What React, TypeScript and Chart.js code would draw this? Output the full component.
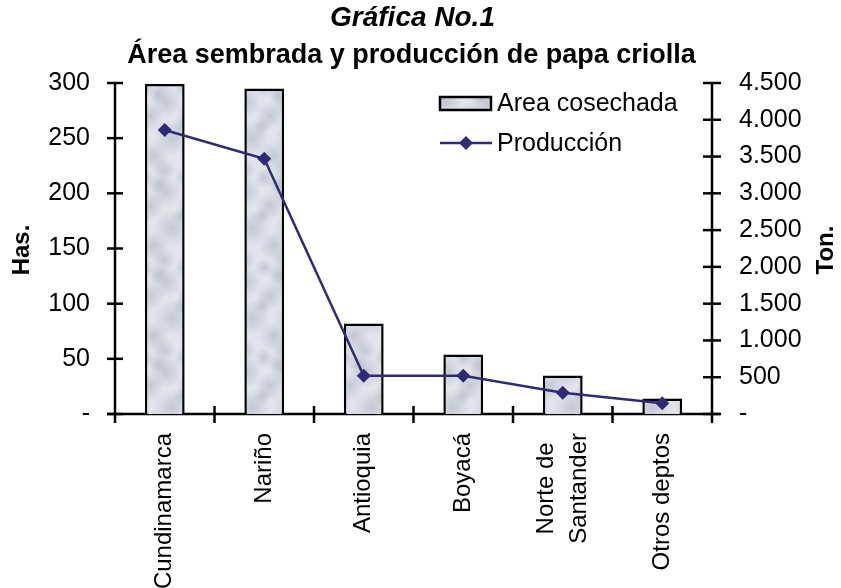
import React, { useEffect, useRef } from 'react';
import { Chart, registerables } from 'chart.js';

Chart.register(...registerables);

const categories: (string | string[])[] = ['Cundinamarca', 'Nariño', 'Antioquia', 'Boyacá', ['Norte de', 'Santander'], 'Otros deptos'];
const areaCosechada = [299, 295, 82, 54, 35, 14];
const produccion = [3860, 3470, 520, 520, 290, 145];
const leftMax = 300;
const leftStep = 50;
const rightMax = 4500;
const rightStep = 500;
const titleText = 'Gráfica No.1';
const subtitleText = 'Área sembrada y producción de papa criolla';
const leftAxisTitle = 'Has.';
const rightAxisTitle = 'Ton.';
const barLabel = 'Area cosechada';
const lineLabel = 'Producción';

const FONT = '"Liberation Sans", Arial, sans-serif';
const LINE_COLOR = '#2f2a78';
const X_FONT_SIZE = 24;
const X_LINE_HEIGHT = 1.35;

function makePattern(): CanvasPattern | string {
  const c = document.createElement('canvas');
  c.width = 40;
  c.height = 90;
  const g = c.getContext('2d');
  if (!g) return '#d8dbe3';
  g.fillStyle = '#e1e4eb';
  g.fillRect(0, 0, 40, 90);
  const spots = [
    [6, 12, 16], [30, 26, 14], [12, 48, 18], [34, 66, 15], [4, 80, 12], [24, 88, 10], [38, 4, 10], [22, 36, 9],
  ];
  for (const [x, y, r] of spots) {
    for (const dx of [-40, 0, 40]) {
      for (const dy of [-90, 0, 90]) {
        const grad = g.createRadialGradient(x + dx, y + dy, 0, x + dx, y + dy, r);
        grad.addColorStop(0, 'rgba(150,156,172,0.4)');
        grad.addColorStop(1, 'rgba(150,156,172,0)');
        g.fillStyle = grad;
        g.fillRect(0, 0, 40, 90);
      }
    }
  }
  const pat = g.createPattern(c, 'repeat');
  return pat || '#d8dbe3';
}

const fmtThousands = (v: number) => {
  if (v === 0) return '-';
  return String(v).replace(/\B(?=(\d{3})+(?!\d))/g, '.');
};

const decorPlugin = {
  id: 'decor',
  beforeDraw(chart: any) {
    // center multi-line rotated category labels on their tick, lines centred on each other
    const xs = chart.scales.x;
    if (xs && typeof xs.getLabelItems === 'function') {
      const items = xs.getLabelItems();
      const ctx = chart.ctx as CanvasRenderingContext2D;
      items.forEach((it: any) => {
        if (Array.isArray(it.label) && it.label.length > 1 && !it._centered) {
          const lh = X_FONT_SIZE * X_LINE_HEIGHT;
          it.options.translation[0] -= ((it.label.length - 1) * lh) / 2;
          ctx.save();
          ctx.font = `${X_FONT_SIZE}px ${FONT}`;
          const w = Math.max(...it.label.map((s: string) => ctx.measureText(s).width));
          ctx.restore();
          it.options.textAlign = 'center';
          it.options.translation[1] += w / 2;
          it._centered = true;
        }
      });
    }
  },
  beforeDatasetsDraw(chart: any) {
    const ctx = chart.ctx as CanvasRenderingContext2D;
    const { left, right, top, bottom } = chart.chartArea;
    const yL = chart.scales.y;
    const yR = chart.scales.y1;
    const x = chart.scales.x;
    ctx.save();
    ctx.strokeStyle = '#000';
    ctx.lineWidth = 2.5;
    ctx.beginPath();
    ctx.moveTo(left, top);
    ctx.lineTo(left, bottom + 9);
    ctx.stroke();
    ctx.beginPath();
    ctx.moveTo(right, top);
    ctx.lineTo(right, bottom + 9);
    ctx.stroke();
    ctx.beginPath();
    ctx.moveTo(left - 8, bottom);
    ctx.lineTo(right + 8, bottom);
    ctx.stroke();
    yL.ticks.forEach((t: any) => {
      const py = yL.getPixelForValue(t.value);
      ctx.beginPath();
      ctx.moveTo(left - 8, py);
      ctx.lineTo(left + 8, py);
      ctx.stroke();
    });
    yR.ticks.forEach((t: any) => {
      const py = yR.getPixelForValue(t.value);
      ctx.beginPath();
      ctx.moveTo(right - 9, py);
      ctx.lineTo(right + 9, py);
      ctx.stroke();
    });
    const n = categories.length;
    for (let i = 1; i < n; i++) {
      const px = (x.getPixelForValue(i - 1) + x.getPixelForValue(i)) / 2;
      ctx.beginPath();
      ctx.moveTo(px, bottom - 8);
      ctx.lineTo(px, bottom + 9);
      ctx.stroke();
    }
    ctx.restore();
  },
  afterDraw(chart: any) {
    const ctx = chart.ctx as CanvasRenderingContext2D;
    const { left, right } = chart.chartArea;
    const cx = (left + right) / 2;
    ctx.save();
    ctx.fillStyle = '#000';
    ctx.textAlign = 'center';
    ctx.textBaseline = 'alphabetic';
    ctx.font = `italic bold 28px ${FONT}`;
    ctx.fillText(titleText, cx - 1, 26);
    ctx.font = `bold 27px ${FONT}`;
    ctx.fillText(subtitleText, cx - 2, 63);
    ctx.textBaseline = 'middle';
    ctx.font = `bold 24px ${FONT}`;
    ctx.save();
    ctx.translate(22, 250);
    ctx.rotate(-Math.PI / 2);
    ctx.fillText(leftAxisTitle, 0, 0);
    ctx.restore();
    ctx.save();
    ctx.translate(826, 250);
    ctx.rotate(-Math.PI / 2);
    ctx.fillText(rightAxisTitle, 0, 0);
    ctx.restore();
    // legend
    ctx.font = `25px ${FONT}`;
    ctx.textAlign = 'left';
    const pat = chart.data.datasets[1].backgroundColor;
    ctx.fillStyle = pat;
    ctx.fillRect(440, 97, 51, 13);
    ctx.strokeStyle = '#000';
    ctx.lineWidth = 2.5;
    ctx.strokeRect(440, 97, 51, 13);
    ctx.fillStyle = '#000';
    ctx.fillText(barLabel, 497, 104);
    ctx.strokeStyle = LINE_COLOR;
    ctx.lineWidth = 2.5;
    ctx.beginPath();
    ctx.moveTo(440, 143);
    ctx.lineTo(492, 143);
    ctx.stroke();
    ctx.fillStyle = LINE_COLOR;
    ctx.beginPath();
    ctx.moveTo(466, 136);
    ctx.lineTo(473, 143);
    ctx.lineTo(466, 150);
    ctx.lineTo(459, 143);
    ctx.closePath();
    ctx.fill();
    ctx.fillStyle = '#000';
    ctx.fillText(lineLabel, 497, 144);
    ctx.restore();
  },
};

export default function App() {
  const ref = useRef<HTMLCanvasElement | null>(null);
  useEffect(() => {
    if (!ref.current) return;
    const pattern = makePattern();
    const xFont = { family: FONT, size: X_FONT_SIZE, lineHeight: X_LINE_HEIGHT };
    const yFont = { family: FONT, size: 25 };
    const chart = new Chart(ref.current, {
      data: {
        labels: categories as any,
        datasets: [
          {
            type: 'line',
            label: lineLabel,
            data: produccion,
            yAxisID: 'y1',
            borderColor: LINE_COLOR,
            backgroundColor: LINE_COLOR,
            borderWidth: 2.5,
            pointStyle: 'rectRot',
            pointRadius: 7,
            pointBackgroundColor: LINE_COLOR,
            pointBorderWidth: 0,
            tension: 0,
            order: 0,
          } as any,
          {
            type: 'bar',
            label: barLabel,
            data: areaCosechada,
            yAxisID: 'y',
            backgroundColor: pattern as any,
            borderColor: '#000',
            borderWidth: 2.5,
            barPercentage: 0.4,
            categoryPercentage: 1,
            order: 1,
          } as any,
        ],
      },
      options: {
        animation: false,
        responsive: false,
        layout: { padding: { top: 83, left: 0, right: 0, bottom: 0 } },
        plugins: { legend: { display: false }, title: { display: false }, tooltip: { enabled: false } },
        scales: {
          x: {
            grid: { display: false, drawTicks: false },
            border: { display: false },
            ticks: { minRotation: 90, maxRotation: 90, padding: 19, autoSkip: false, color: '#000', font: xFont } as any,
            afterFit: (s: any) => { s.height = 174; },
          },
          y: {
            position: 'left',
            min: 0,
            max: leftMax,
            grid: { display: false, drawTicks: false },
            border: { display: false },
            ticks: { stepSize: leftStep, padding: 25, color: '#000', font: yFont, callback: (v: any) => (v === 0 ? '-' : String(v)) },
            afterFit: (s: any) => { s.width = 115; },
          },
          y1: {
            position: 'right',
            min: 0,
            max: rightMax,
            grid: { display: false, drawTicks: false },
            border: { display: false },
            ticks: { stepSize: rightStep, padding: 27, color: '#000', font: yFont, callback: (v: any) => fmtThousands(Number(v)) },
            afterFit: (s: any) => { s.width = 129; },
          },
        },
      },
      plugins: [decorPlugin],
    } as any);
    return () => chart.destroy();
  }, []);
  return (
    <div style={{ position: 'absolute', left: 0, top: 0, width: 841, height: 588, background: '#fff' }}>
      <canvas ref={ref} width={841} height={588} style={{ width: 841, height: 588, display: 'block' }} />
    </div>
  );
}
